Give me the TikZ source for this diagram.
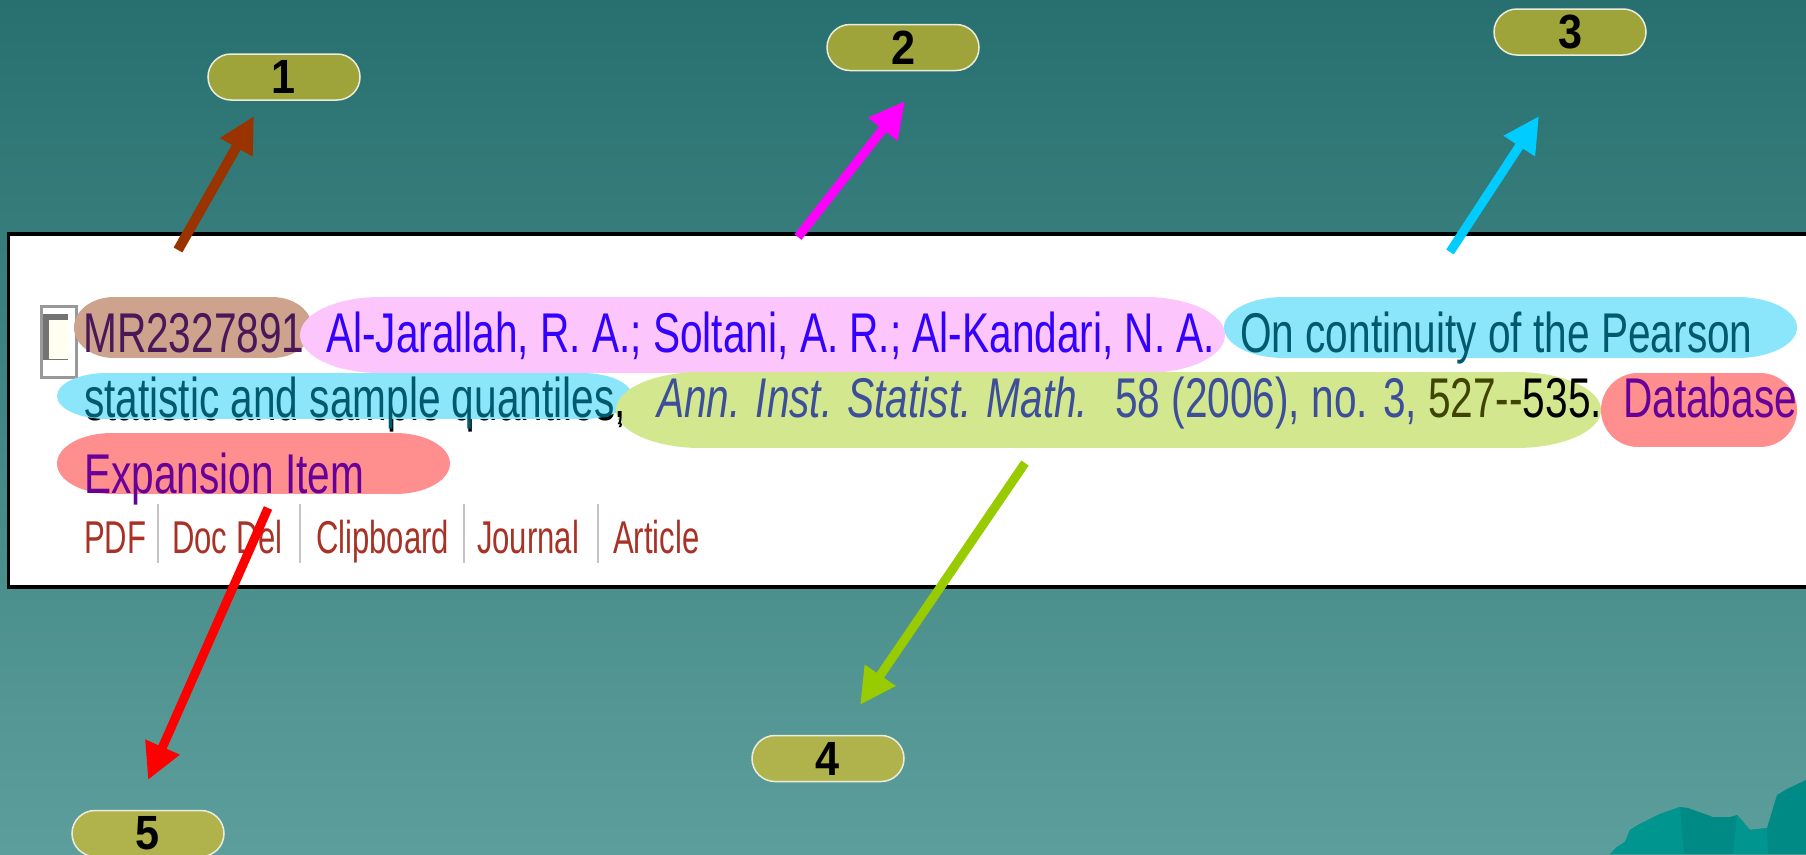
\documentclass[tikz,border=0pt]{standalone}
\usepackage{fontspec}
\usetikzlibrary{arrows.meta}
\newfontfamily\scrfont[FakeStretch=0.725]{Liberation Sans}
\newfontfamily\lnkfont[FakeStretch=0.675]{Liberation Sans}
\newfontfamily\labfont[FakeStretch=0.9]{Liberation Sans}
\definecolor{bgtop}{HTML}{287070}
\definecolor{bgbot}{HTML}{5C9E9B}
\definecolor{olivetop}{HTML}{9EA33A}
\definecolor{olivebot}{HTML}{B0B34C}
\definecolor{labborder}{HTML}{ECECDD}
\definecolor{hlmr}{HTML}{CDA38D}
\definecolor{hlpink}{HTML}{FCC6FC}
\definecolor{hlcyan}{HTML}{8BE6FB}
\definecolor{hlgreen}{HTML}{D3E78E}
\definecolor{hlsalmon}{HTML}{FF8E8E}
\definecolor{txmr}{HTML}{4A1858}
\definecolor{txauth}{HTML}{3300FF}
\definecolor{txtitle}{HTML}{005A6E}
\definecolor{txjour}{HTML}{3D4F9A}
\definecolor{txolive}{HTML}{3F4400}
\definecolor{txpurple}{HTML}{660099}
\definecolor{txlink}{HTML}{A83226}
\definecolor{sepgray}{HTML}{C4C4C4}
\definecolor{arbrown}{HTML}{993300}
\definecolor{armag}{HTML}{FF00FF}
\definecolor{arcyan}{HTML}{00CCFF}
\definecolor{argreen}{HTML}{99CC00}
\definecolor{arred}{HTML}{FF0000}
\definecolor{mtn}{HTML}{008A85}
\definecolor{mtnlight}{HTML}{00958F}
\newcommand\hlpill[6]{%
  \fill[#6] ({#1+#5},{#3-#4}) rectangle ({#2-#5},{#3+#4});
  \fill[#6] ({#1+#5},#3) ellipse [x radius=#5pt, y radius=#4pt];
  \fill[#6] ({#2-#5},#3) ellipse [x radius=#5pt, y radius=#4pt];}
\tikzset{
  numlab/.style={draw=labborder, line width=1.5pt, rounded corners=23pt,
    minimum width=152pt, minimum height=46pt, inner sep=0pt,
    font=\labfont\bfseries\fontsize{48}{48}\selectfont},
  entry/.style={anchor=base west, inner sep=0pt,
    font=\scrfont\fontsize{56}{60}\selectfont},
  linktxt/.style={anchor=base west, inner sep=0pt, text=txlink,
    font=\lnkfont\fontsize{46}{50}\selectfont},
  callout/.style={line width=9pt, -{Triangle[length=36pt,width=35pt]}},
  sepline/.style={draw=sepgray, line width=2pt}
}
\begin{document}
\begin{tikzpicture}[x=1pt,y=-1pt]
\useasboundingbox (0,0) rectangle (1806,854);
% background
\shade[top color=bgtop, bottom color=bgbot] (0,0) rectangle (1806,854);
% mountain
\fill[mtn] (1610,854) -- (1617,847) -- (1625,842) -- (1630,830) -- (1638,825)
  -- (1660,814) -- (1680,807) -- (1688,808) -- (1713,817) -- (1730,817)
  -- (1737,815) -- (1750,830) -- (1767,828) -- (1777,795) -- (1787,789)
  -- (1806,780) -- (1806,854) -- cycle;
\fill[mtnlight] (1610,854) -- (1617,847) -- (1625,842) -- (1630,830) -- (1638,825)
  -- (1660,814) -- (1680,807) -- (1684,854) -- cycle;
\fill[mtnlight] (1737,815) -- (1750,830) -- (1767,828) -- (1768,854) -- (1733,854) -- cycle;
% white panel
\draw[fill=white, line width=3.5pt] (8.5,234) rectangle (1830,587);
% checkbox
\draw[draw=gray!80, line width=3pt, fill=white] (41.5,306.5) rectangle (76.5,377.5);
\fill[gray!90!black] (43,314) rectangle (68,360);
\fill[white!94!yellow] (49,320) rectangle (68,359);
% black original text peeking under line 2
\node[entry, text=black] (shadow) at (85,420) {statistic and sample quantiles,};
% highlights
\hlpill{74}{312}{327.5}{30.5}{40}{hlmr}
\hlpill{300}{1225}{335}{38}{80}{hlpink}
\hlpill{1224}{1797}{327.5}{30.5}{60}{hlcyan}
\hlpill{57}{632}{396}{23}{50}{hlcyan}
\hlpill{616}{1601}{410}{38}{85}{hlgreen}
\hlpill{1601}{1797}{410}{37}{37}{hlsalmon}
\hlpill{57}{450}{463.5}{30.5}{55}{hlsalmon}
% entry text
\node[entry, text=txmr] (mr) at (83,352) {MR2327891};
\node[entry, text=txauth] (auth) at (326,352) {Al-Jarallah, R. A.; Soltani, A. R.; Al-Kandari, N. A.};
\node[entry, text=txtitle] (titleA) at (1240,352) {On continuity of the Pearson};
\node[entry, text=txtitle] (titleB) at (84,417) {statistic and sample quantiles};
\node[entry, text=black] (comma) at (titleB.base east) {,};
\node[entry, text=txjour] (jour) at (657,417) {\itshape Ann. Inst. Statist. Math.};
\node[entry, text=txjour] (vol) at (1115,417) {58 (2006), no. 3, {\color{txolive}527-{}-}{\color{black}535.}};
\node[entry, text=txpurple] (db) at (1623,417) {Database};
\node[entry, text=txpurple] (exp) at (84,493) {Expansion Item};
% links row
\node[linktxt] (pdf) at (84,553) {PDF};
\node[linktxt] (docdel) at (172,553) {Doc Del};
\node[linktxt] (clip) at (316,553) {Clipboard};
\node[linktxt] (journal) at (477,553) {Journal};
\node[linktxt] (article) at (613,553) {Article};
\coordinate (s1a) at (158,504); \coordinate (s1b) at (158,563);
\coordinate (s2a) at (300,504); \coordinate (s2b) at (300,563);
\coordinate (s3a) at (464,504); \coordinate (s3b) at (464,563);
\coordinate (s4a) at (598,504); \coordinate (s4b) at (598,563);
\draw[sepline] (s1a) -- (s1b);
\draw[sepline] (s2a) -- (s2b);
\draw[sepline] (s3a) -- (s3b);
\draw[sepline] (s4a) -- (s4b);
% number labels
\node[numlab, fill=olivetop] (l1) at (284,77) {\raisebox{-3pt}{1}};
\node[numlab, fill=olivetop] (l2) at (903,47.5) {\raisebox{-2pt}{2}};
\node[numlab, fill=olivetop] (l3) at (1570,32) {\raisebox{-5pt}{3}};
\node[numlab, fill=olivebot] (l4) at (828,758.5) {\raisebox{-1pt}{4}};
\node[numlab, fill=olivebot] (l5) at (148,833.5) {\raisebox{-1pt}{5}};
% arrows
\coordinate (t1) at (178,250); \coordinate (h1) at (254,116);
\coordinate (t2) at (798,237); \coordinate (h2) at (905,101);
\coordinate (t3) at (1450,252); \coordinate (h3) at (1539,116);
\coordinate (t4) at (1025,463); \coordinate (h4) at (860,705);
\coordinate (t5) at (268,508); \coordinate (h5) at (148,780);
\draw[callout, draw=arbrown, fill=arbrown, line width=10pt] (t1) -- (h1);
\draw[callout, draw=armag, fill=armag] (t2) -- (h2);
\draw[callout, draw=arcyan, fill=arcyan] (t3) -- (h3);
\draw[callout, draw=argreen, fill=argreen] (t4) -- (h4);
\draw[callout, draw=arred, fill=arred] (t5) -- (h5);
\end{tikzpicture}
\end{document}
